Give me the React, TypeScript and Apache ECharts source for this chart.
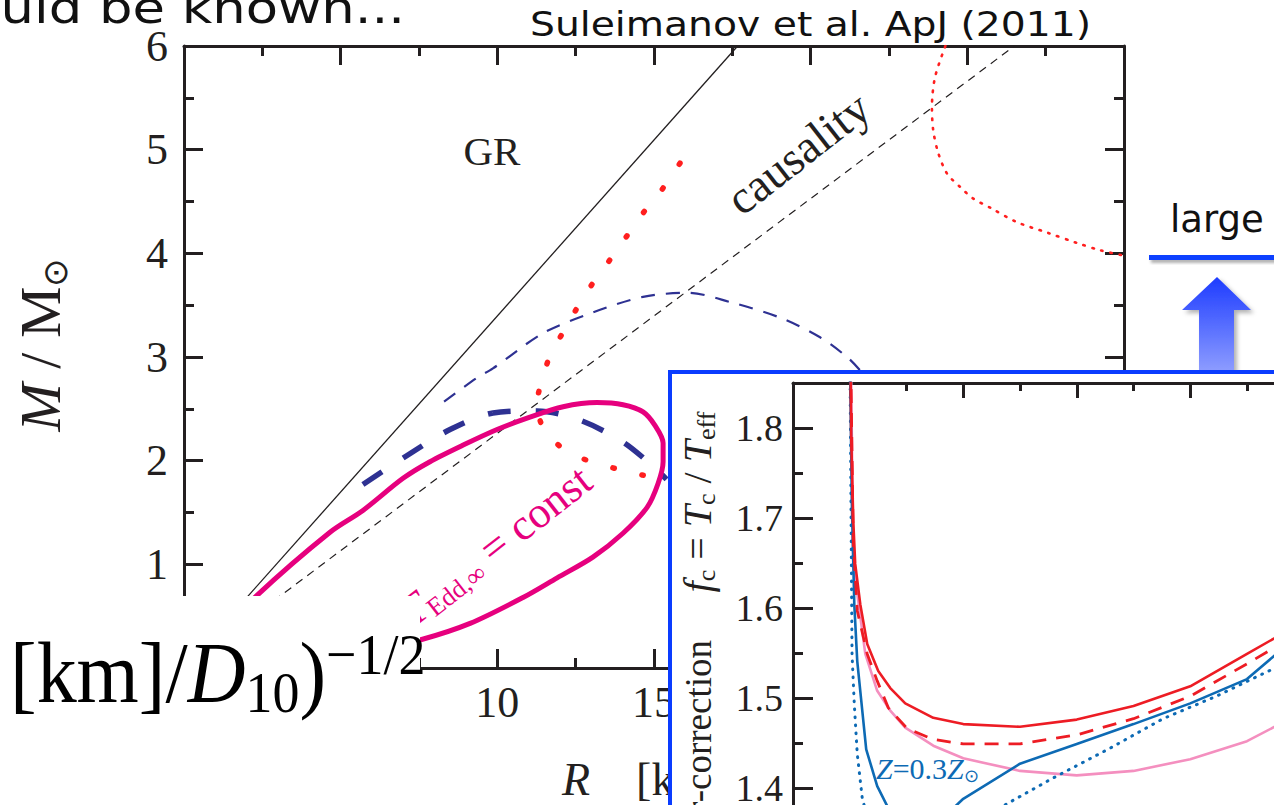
import React, { useEffect, useRef } from "react";
import * as echarts from "echarts";

// ---------- main mass–radius diagram (R in km, M in solar masses) ----------
const grLine = [[0, 0], [17.67, 6]];
const causalityLine = [[0, 0], [26.5, 6]];
const eosThinDashed = [
  [8.3, 2.57], [9.35, 2.8], [9.86, 2.89], [11.46, 3.23], [13.05, 3.43], [14.65, 3.58],
  [16.09, 3.62], [17.43, 3.53], [19.02, 3.38], [20.3, 3.19], [21.16, 3.0], [21.58, 2.87], [22.3, 2.6],
];
const eosThickDashed = [
  [5.71, 1.77], [7.12, 2.05], [8.49, 2.3], [9.86, 2.46], [11.27, 2.48], [12.64, 2.39],
  [14.01, 2.18], [15.03, 1.93], [15.4, 1.82],
];
const redDottedInner = [
  [15.83, 4.87], [15.29, 4.63], [14.68, 4.4], [14.14, 4.17], [13.6, 3.94], [13.02, 3.7],
  [12.54, 3.47], [12.1, 3.24], [11.68, 3.01], [11.43, 2.78], [11.27, 2.56], [11.46, 2.32],
  [12.16, 2.1], [12.99, 1.99], [13.82, 1.92], [14.65, 1.86], [15.42, 1.82], [16.2, 1.78],
];
const redDottedOuter = [
  [24.3, 6.0], [23.97, 5.7], [23.87, 5.41], [23.91, 5.19], [24.07, 4.97], [24.35, 4.77],
  [24.77, 4.64], [25.18, 4.53], [25.73, 4.44], [26.59, 4.3], [27.55, 4.2], [28.5, 4.1],
  [29.24, 4.03], [29.97, 3.98],
];
const eddingtonLoop = [
  [1.3, 0.35], [2.33, 0.7], [4.66, 1.31], [5.71, 1.52], [6.99, 1.83], [7.85, 1.99], [8.91, 2.15],
  [9.99, 2.3], [11.04, 2.42], [12.1, 2.52], [13.18, 2.56], [14.01, 2.54], [14.65, 2.47],
  [15.03, 2.34], [15.29, 2.17], [15.29, 1.99], [15.13, 1.78], [14.78, 1.55], [14.01, 1.3],
  [13.05, 1.07], [11.91, 0.87], [10.82, 0.68], [9.13, 0.43], [7.53, 0.27], [5.5, 0.13],
  [3.5, 0.12], [2.0, 0.2], [1.3, 0.35],
];

// ---------- inset: colour-correction factor ----------
const fcRedSolid = [
  [1.0, 1.95], [1.013, 1.789], [1.031, 1.697], [1.048, 1.649], [1.093, 1.604], [1.154, 1.56],
  [1.251, 1.53], [1.357, 1.511], [1.489, 1.494], [1.736, 1.478], [2.0, 1.471], [2.5, 1.468],
  [3.0, 1.476], [3.5, 1.491], [4.0, 1.513], [4.5, 1.549], [5.0, 1.585],
];
const fcRedDashed = [
  [1.0, 1.95], [1.031, 1.674], [1.066, 1.597], [1.154, 1.549], [1.242, 1.519], [1.34, 1.489],
  [1.507, 1.466], [1.736, 1.454], [2.0, 1.449], [2.5, 1.449], [3.0, 1.459], [3.5, 1.477],
  [4.0, 1.502], [4.5, 1.538], [5.0, 1.575],
];
const fcPink = [
  [1.004, 1.95], [1.031, 1.649], [1.137, 1.549], [1.242, 1.508], [1.357, 1.486], [1.489, 1.467],
  [1.736, 1.447], [2.0, 1.433], [2.5, 1.419], [3.0, 1.414], [3.5, 1.419], [4.0, 1.432],
  [4.5, 1.452], [5.0, 1.485],
];
const fcBlueSolid = [
  [0.995, 1.95], [1.018, 1.72], [1.04, 1.604], [1.066, 1.541], [1.145, 1.443], [1.242, 1.402],
  [1.33, 1.38], [1.49, 1.352], [1.74, 1.357], [2.0, 1.388], [2.5, 1.427], [3.0, 1.449],
  [3.5, 1.471], [4.0, 1.494], [4.5, 1.521], [5.0, 1.575],
];
const fcBlueDotted = [
  [0.998, 1.95], [1.02, 1.549], [1.04, 1.493], [1.066, 1.438], [1.11, 1.389], [1.2, 1.345],
  [1.4, 1.32], [1.7, 1.325], [2.0, 1.35], [2.35, 1.38], [2.79, 1.411], [3.29, 1.444],
  [3.76, 1.477], [4.23, 1.502], [4.74, 1.533], [5.0, 1.55],
];

const ink = "#231f20";
const serif = "'Liberation Serif', 'Times New Roman', serif";
const sans = "'DejaVu Sans', 'Noto Sans', sans-serif";
const navy = "#2e3192";
const red = "#ff1f1f";
const magenta = "#e6007e";
const insetRed = "#ed1c24";
const insetBlue = "#0d6ab4";
const insetPink = "#f48fbf";

function axisBase(min: number, max: number, interval: number, tickLen: number, minorLen: number) {
  return {
    type: "value",
    min,
    max,
    interval,
    axisLine: { show: true, onZero: false, lineStyle: { color: ink, width: 3 } },
    axisTick: { show: true, inside: true, length: tickLen, lineStyle: { color: ink, width: 3 } },
    minorTick: { show: true, splitNumber: 2, length: minorLen, lineStyle: { color: ink, width: 3 } },
    splitLine: { show: false },
    minorSplitLine: { show: false },
  };
}

function line(data: number[][], xi: number, yi: number, lineStyle: any, extra: any = {}) {
  return {
    type: "line",
    xAxisIndex: xi,
    yAxisIndex: yi,
    data,
    symbol: "none",
    showSymbol: false,
    silent: true,
    lineStyle,
    ...extra,
  };
}

export default function App() {
  const ref = useRef<HTMLDivElement>(null);
  useEffect(() => {
    document.body.style.margin = "0";
    const chart = echarts.init(ref.current!, null, { renderer: "svg" });
    const mainLabel = { show: true, fontFamily: serif, fontSize: 44, color: ink };
    const option: any = {
      animation: false,
      backgroundColor: "#ffffff",
      grid: [
        { left: 184, top: 46, width: 940, height: 622, containLabel: false, outerBoundsMode: "none" },
        { left: 793, top: 383, width: 510.75, height: 495, containLabel: false, outerBoundsMode: "none", z: 60 },
      ],
      xAxis: [
        { ...axisBase(0, 30, 5, 19, 10), gridIndex: 0, position: "bottom", axisLabel: { ...mainLabel, margin: 12 } },
        { ...axisBase(0, 30, 5, 19, 10), gridIndex: 0, position: "top", axisLabel: { show: false } },
        { ...axisBase(0.5, 5, 1, 8, 15), gridIndex: 1, position: "top", axisLabel: { show: false }, z: 60 },
      ],
      yAxis: [
        { ...axisBase(0, 6, 1, 19, 10), gridIndex: 0, position: "left", axisLabel: { ...mainLabel, margin: 16 } },
        { ...axisBase(0, 6, 1, 19, 10), gridIndex: 0, position: "right", axisLabel: { show: false } },
        {
          ...axisBase(1.3, 1.85, 0.1, 20, 10), gridIndex: 1, position: "left", z: 60,
          axisLabel: { show: true, fontFamily: serif, fontSize: 38, color: ink, margin: 10, showMaxLabel: false },
        },
      ],
      series: [
        line(grLine, 0, 0, { color: ink, width: 1.3 }),
        line(causalityLine, 0, 0, { color: ink, width: 1.2, type: [8, 6] }),
        line(eosThinDashed, 0, 0, { color: navy, width: 2.2, type: [14, 11] }, { smooth: 0.3 }),
        line(eosThickDashed, 0, 0, { color: navy, width: 5.5, type: [23, 25] }, { smooth: 0.3 }),
        line(redDottedInner, 0, 0, { color: red, width: 5.5, type: [1.5, 28.5], cap: "round" }, { smooth: 0.3 }),
        line(redDottedOuter, 0, 0, { color: red, width: 2.6, type: [1.5, 7.8], cap: "round" }, { smooth: 0.3 }),
        line(eddingtonLoop, 0, 0, { color: magenta, width: 5, join: "round" }, { smooth: 0.3 }),
        line(fcPink, 2, 2, { color: insetPink, width: 2.6 }, { z: 60 }),
        line(fcBlueDotted, 2, 2, { color: insetBlue, width: 3, type: [0.8, 7.2], cap: "round" }, { z: 60 }),
        line(fcBlueSolid, 2, 2, { color: insetBlue, width: 2.6 }, { z: 60 }),
        line(fcRedDashed, 2, 2, { color: insetRed, width: 2.8, type: [14, 10] }, { z: 60 }),
        line(fcRedSolid, 2, 2, { color: insetRed, width: 2.6 }, { z: 60 }),
      ],
      graphic: [
        // header texts
        {
          type: "text", z: 3, x: 405, y: 8, scaleX: 1.2,
          style: { text: "should be known...", fontFamily: sans, fontSize: 44, fill: "#111", align: "right", verticalAlign: "middle" },
        },
        {
          type: "text", z: 3, x: 530, y: 25, scaleX: 1.19,
          style: { text: "Suleimanov et al. ApJ (2011)", fontFamily: sans, fontSize: 33, fill: "#111", align: "left", verticalAlign: "middle" },
        },
        // annotations inside the main diagram
        {
          type: "text", z: 3, x: 492, y: 151,
          style: { text: "GR", fontFamily: serif, fontSize: 41, fill: ink, align: "center", verticalAlign: "middle" },
        },
        {
          type: "text", z: 3, x: 798, y: 153, rotation: (38 * Math.PI) / 180,
          style: { text: "causality", fontFamily: serif, fontSize: 47, fill: ink, align: "center", verticalAlign: "middle" },
        },
        {
          type: "text", z: 3, x: 495, y: 546, rotation: (38 * Math.PI) / 180,
          style: {
            text: "{t|T}{s|Edd,∞}{n| = const}",
            align: "center", verticalAlign: "middle", fill: magenta,
            rich: {
              t: { fontFamily: serif, fontStyle: "italic", fontSize: 44, lineHeight: 48, fill: magenta },
              s: { fontFamily: serif, fontSize: 26, lineHeight: 8, verticalAlign: "bottom", fill: magenta },
              n: { fontFamily: serif, fontSize: 44, lineHeight: 48, fill: magenta },
            },
          },
        },
        // main axis titles
        {
          type: "text", z: 3, x: 40, y: 345, rotation: Math.PI / 2,
          style: {
            text: "{i|M}{n| / M}{s|⊙}",
            align: "center", verticalAlign: "middle", fill: ink,
            rich: {
              i: { fontFamily: serif, fontStyle: "italic", fontSize: 58, lineHeight: 64, fill: ink },
              n: { fontFamily: serif, fontSize: 58, lineHeight: 64, fill: ink },
              s: { fontFamily: serif, fontSize: 34, lineHeight: 16, verticalAlign: "bottom", fill: ink },
            },
          },
        },
        {
          type: "text", z: 3, x: 562, y: 779,
          style: {
            text: "{i|R}{n|    [km]}",
            align: "left", verticalAlign: "middle", fill: ink,
            rich: {
              i: { fontFamily: serif, fontStyle: "italic", fontSize: 46, lineHeight: 52, fill: ink },
              n: { fontFamily: serif, fontSize: 46, lineHeight: 52, fill: ink },
            },
          },
        },
        // "large" with blue bar and arrow
        {
          type: "text", z: 3, x: 1170, y: 219,
          style: { text: "large", fontFamily: sans, fontSize: 37, fill: "#111", align: "left", verticalAlign: "middle" },
        },
        {
          type: "rect", z: 3, shape: { x: 1149, y: 255, width: 140, height: 5 },
          style: { fill: "#1040ff", shadowBlur: 3, shadowOffsetX: 2, shadowOffsetY: 3, shadowColor: "rgba(0,0,0,0.3)" },
        },
        {
          type: "polygon", z: 40,
          shape: { points: [[1217, 277], [1251, 310], [1234, 310], [1234, 372], [1199, 372], [1199, 310], [1182, 310]] },
          style: {
            fill: new echarts.graphic.LinearGradient(0, 0, 0, 1, [
              { offset: 0, color: "#1d3cff" },
              { offset: 1, color: "#8e9dff" },
            ]),
            shadowBlur: 4, shadowOffsetX: 3, shadowOffsetY: 3, shadowColor: "rgba(0,0,0,0.3)",
          },
        },
        // white cover behind the formula fragment
        { type: "rect", z: 50, shape: { x: -10, y: 596, width: 430, height: 300 }, style: { fill: "#ffffff" } },
        // formula fragment
        {
          type: "text", z: 55, x: 10, y: 673, scaleX: 0.93,
          style: {
            text: "{m|[km]/}{d|D}{b|10}{m|)}{p|−1/2}",
            align: "left", verticalAlign: "middle", fill: "#000",
            rich: {
              m: { fontFamily: serif, fontSize: 86, lineHeight: 96, fill: "#000" },
              d: { fontFamily: serif, fontStyle: "italic", fontSize: 86, lineHeight: 96, fill: "#000" },
              b: { fontFamily: serif, fontSize: 58, lineHeight: 36, verticalAlign: "bottom", fill: "#000" },
              p: { fontFamily: serif, fontSize: 58, lineHeight: 38, verticalAlign: "top", fill: "#000" },
            },
          },
        },
        // inset panel
        {
          type: "rect", z: 50, shape: { x: 670, y: 372, width: 700, height: 600 },
          style: { fill: "#ffffff", stroke: "#0a3cff", lineWidth: 4 },
        },
        {
          type: "text", z: 70, x: 698, y: 640, rotation: Math.PI / 2,
          style: { text: "color-correction", fontFamily: serif, fontSize: 37, fill: ink, align: "right", verticalAlign: "middle" },
        },
        {
          type: "text", z: 70, x: 697, y: 502, rotation: Math.PI / 2,
          style: {
            text: "{i|f}{s|c}{n| = }{i|T}{s|c}{n| / }{i|T}{s|eff}",
            align: "center", verticalAlign: "middle", fill: ink,
            rich: {
              i: { fontFamily: serif, fontStyle: "italic", fontSize: 40, lineHeight: 44, fill: ink },
              n: { fontFamily: serif, fontSize: 40, lineHeight: 44, fill: ink },
              s: { fontFamily: serif, fontSize: 26, lineHeight: 16, verticalAlign: "bottom", fill: ink },
            },
          },
        },
        {
          type: "text", z: 70, x: 876, y: 768,
          style: {
            text: "{i|Z}{n|=0.3}{i|Z}{s|⊙}",
            align: "left", verticalAlign: "middle", fill: insetBlue,
            rich: {
              i: { fontFamily: serif, fontStyle: "italic", fontSize: 30, lineHeight: 34, fill: insetBlue },
              n: { fontFamily: serif, fontSize: 30, lineHeight: 34, fill: insetBlue },
              s: { fontFamily: serif, fontSize: 18, lineHeight: 10, verticalAlign: "bottom", fill: insetBlue },
            },
          },
        },
      ],
    };
    chart.setOption(option);
    return () => chart.dispose();
  }, []);
  return (
    <div
      ref={ref}
      style={{ position: "absolute", left: 0, top: 0, width: 1274, height: 805, background: "#fff", overflow: "hidden" }}
    />
  );
}
